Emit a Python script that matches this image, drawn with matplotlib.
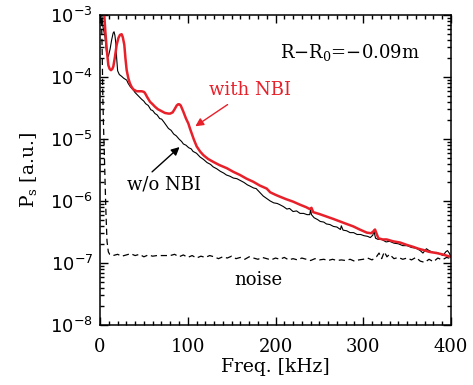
import numpy as np
import matplotlib
matplotlib.use('Agg')
from matplotlib import pyplot as plt
from matplotlib.ticker import FixedLocator, MultipleLocator, LogLocator, FuncFormatter

plt.rcParams['font.family'] = 'DejaVu Serif'
plt.rcParams['mathtext.fontset'] = 'dejavuserif'

# Spectra, kept as log10(P_s).
wo_freq = [1, 2, 3.5, 5.7, 7.6, 9.5, 11.5, 13.3, 15, 16, 17, 18, 19, 20.1, 22, 24.7, 27, 30.4,
           32, 34.2, 36, 38, 39.9, 42, 44, 47.5, 50, 52, 55, 58, 60, 62.7, 65, 68, 70.3, 73,
           76, 78, 81, 84, 87, 90, 93, 95, 98, 101, 104, 106, 110, 114, 118, 122, 126, 129,
           133, 137, 141, 144, 148, 152, 156, 160, 164, 168, 171, 175, 178, 182, 186, 190,
           194, 198, 202, 205, 209, 213, 216, 220, 224, 228, 232, 236, 239, 240, 241, 244,
           248, 251, 255, 258, 262, 266, 270, 274, 275, 277, 281, 285, 289, 293, 297, 301,
           305, 308, 311, 312, 314, 317, 321, 326, 330, 335, 340, 345, 350, 355, 360, 365,
           368, 372, 375, 380, 384, 388, 391, 394, 396, 398, 400]
wo_logP = [-2.70, -3.00, -3.20, -3.35, -3.62, -3.67, -3.55, -3.40, -3.29, -3.27, -3.33, -3.45,
           -3.70, -3.90, -3.96, -3.99, -4.02, -4.05, -4.10, -4.15, -4.18, -4.21, -4.25, -4.28,
           -4.31, -4.36, -4.39, -4.43, -4.46, -4.53, -4.54, -4.59, -4.61, -4.67, -4.68, -4.73,
           -4.79, -4.83, -4.86, -4.92, -4.95, -5.00, -5.04, -5.08, -5.10, -5.14, -5.16, -5.20,
           -5.23, -5.29, -5.33, -5.38, -5.41, -5.45, -5.48, -5.52, -5.55, -5.58, -5.60, -5.63,
           -5.64, -5.67, -5.70, -5.74, -5.76, -5.79, -5.80, -5.86, -5.92, -5.96, -6.00, -6.03,
           -6.04, -6.06, -6.09, -6.13, -6.12, -6.17, -6.16, -6.20, -6.20, -6.22, -6.22, -6.14,
           -6.22, -6.27, -6.30, -6.33, -6.34, -6.37, -6.38, -6.41, -6.42, -6.46, -6.40, -6.47,
           -6.48, -6.51, -6.51, -6.54, -6.54, -6.56, -6.57, -6.59, -6.55, -6.47, -6.60, -6.62,
           -6.62, -6.66, -6.65, -6.68, -6.69, -6.72, -6.72, -6.75, -6.76, -6.80, -6.84, -6.77,
           -6.80, -6.83, -6.83, -6.86, -6.88, -6.82, -6.80, -6.84, -6.90]

nbi_freq = [3, 4.9, 6, 7.6, 9.5, 11, 12.5, 14, 15.2, 17, 19, 21, 22.8, 24.7, 26, 27.7, 29,
            30.4, 32.3, 34, 36, 38, 41.8, 45, 47.5, 50, 51.3, 54, 57, 60, 62.7, 66, 70, 74,
            78, 80, 82.8, 85, 87.4, 89, 90.4, 92, 95, 98, 100.7, 102.5, 104.5, 107, 110.2,
            114, 117.8, 123, 129.2, 136, 144.4, 152, 159.5, 167, 174.7, 182, 190, 194, 200,
            205, 212, 220, 228, 235, 239, 241, 243, 250, 258, 266, 273.5, 281, 288.7, 296,
            304, 309, 311.5, 313.4, 315, 317.2, 322, 326.7, 334, 342, 350, 357, 363, 368.4,
            375, 383.7, 390, 397, 400]
nbi_logP = [-2.85, -3.00, -3.25, -3.54, -3.81, -3.87, -3.89, -3.87, -3.83, -3.68, -3.48,
            -3.37, -3.32, -3.31, -3.36, -3.48, -3.70, -3.89, -4.02, -4.10, -4.16, -4.20,
            -4.23, -4.23, -4.23, -4.24, -4.26, -4.33, -4.40, -4.44, -4.48, -4.52, -4.55,
            -4.58, -4.59, -4.59, -4.57, -4.52, -4.46, -4.44, -4.44, -4.46, -4.56, -4.67,
            -4.75, -4.83, -4.91, -5.01, -5.12, -5.20, -5.26, -5.32, -5.37, -5.42, -5.47,
            -5.53, -5.58, -5.64, -5.69, -5.75, -5.80, -5.86, -5.90, -5.93, -5.97, -6.01,
            -6.06, -6.10, -6.13, -6.11, -6.18, -6.21, -6.25, -6.29, -6.33, -6.37, -6.41,
            -6.46, -6.51, -6.52, -6.49, -6.46, -6.52, -6.60, -6.62, -6.62, -6.65, -6.67,
            -6.71, -6.74, -6.77, -6.79, -6.82, -6.84, -6.86, -6.89, -6.90]

noise_freq = [1.5, 2.5, 3.2, 4.0, 4.6, 5.8, 6.8, 8.0, 9.5, 11, 15, 20, 25, 30, 35, 40, 45,
              50, 55, 60, 65, 70, 75, 80, 85, 90, 95, 100, 105, 110, 115, 120, 125, 130, 135,
              140, 145, 150, 155, 160, 165, 170, 175, 180, 185, 190, 195, 200, 205, 210, 215,
              220, 225, 230, 235, 240, 245, 250, 255, 260, 265, 270, 275, 280, 285, 290, 295,
              300, 305, 310, 315, 318, 321, 324, 327, 330, 335, 340, 345, 350, 355, 360, 365,
              370, 375, 380, 385, 390, 395, 400]
noise_logP = [-2.90, -3.60, -4.30, -4.80, -5.06, -5.70, -6.20, -6.65, -6.82, -6.86, -6.88,
              -6.86, -6.89, -6.87, -6.85, -6.88, -6.86, -6.90, -6.87, -6.89, -6.88, -6.88,
              -6.88, -6.88, -6.86, -6.90, -6.87, -6.91, -6.88, -6.92, -6.89, -6.91, -6.88,
              -6.90, -6.93, -6.90, -6.92, -6.89, -6.93, -6.91, -6.94, -6.90, -6.92, -6.94,
              -6.91, -6.93, -6.95, -6.92, -6.94, -6.91, -6.95, -6.93, -6.95, -6.92, -6.94,
              -6.96, -6.93, -6.95, -6.94, -6.96, -6.94, -6.96, -6.95, -6.96, -6.94, -6.97,
              -6.95, -6.94, -6.92, -6.95, -6.90, -6.84, -6.93, -6.82, -6.90, -6.86, -6.93,
              -6.91, -6.94, -6.92, -6.95, -6.91, -6.97, -6.99, -6.94, -6.98, -6.92, -6.95,
              -6.91, -6.93]

fig = plt.figure(figsize=(4.73, 3.85), dpi=100)
ax = fig.add_axes([100/473, 1-325/385, 351/473, 310/385])

ax.plot(noise_freq, 10.0**np.array(noise_logP), color='k', lw=0.9, ls=(0, (5, 3)))
ax.plot(wo_freq, 10.0**np.array(wo_logP), color='k', lw=0.8)
ax.plot(nbi_freq, 10.0**np.array(nbi_logP), color='#e8202a', lw=1.8)

ax.set_yscale('log')
ax.set_xlim(0, 400)
ax.set_ylim(1e-8, 1e-3)

ax.xaxis.set_major_locator(MultipleLocator(100))
ax.xaxis.set_minor_locator(MultipleLocator(10))
ax.yaxis.set_major_locator(LogLocator(base=10, numticks=10))
ax.yaxis.set_minor_locator(LogLocator(base=10, subs=np.arange(2, 10), numticks=20))
ax.yaxis.set_major_formatter(FuncFormatter(lambda v, p: r'$\mathsf{10^{%d}}$' % round(np.log10(v))))
ax.tick_params(which='both', direction='in', top=True, right=True, width=1.0)
ax.tick_params(which='major', length=6)
ax.tick_params(which='minor', length=3)
ax.tick_params(axis='x', which='major', pad=9, labelsize=13)
ax.tick_params(axis='y', which='major', pad=5, labelsize=13)
for s in ax.spines.values():
    s.set_linewidth(1.1)

ax.set_xlabel('Freq. [kHz]', fontsize=13.5, labelpad=2)
ax.set_ylabel(r'P$_\mathregular{s}$ [a.u.]', fontsize=13.5, labelpad=8)

ax.text(285, 10**-3.6, r'R$-$R$_0$=$-$0.09m', fontsize=13, ha='center', va='center')
ax.text(171, 10**-4.21, 'with NBI', fontsize=13, color='#e8202a', ha='center', va='center')
ax.text(73, 10**-5.74, 'w/o NBI', fontsize=13, ha='center', va='center')
ax.text(180, 10**-7.27, 'noise', fontsize=13, ha='center', va='center')

ax.annotate('', xy=(106, 10**-4.82), xytext=(148, 10**-4.42),
            arrowprops=dict(arrowstyle='-|>', color='#e8202a', lw=1.0, mutation_scale=12))
ax.annotate('', xy=(93, 10**-5.10), xytext=(57, 10**-5.56),
            arrowprops=dict(arrowstyle='-|>', color='k', lw=1.0, mutation_scale=12))

plt.savefig('out.png', dpi=100)
